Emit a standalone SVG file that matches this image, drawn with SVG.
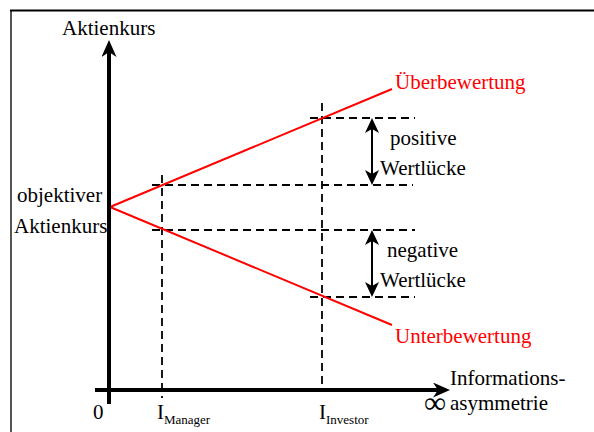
<svg xmlns="http://www.w3.org/2000/svg" width="594" height="432" viewBox="0 0 594 432" font-family="'Liberation Serif', 'DejaVu Serif', serif">
<style>
text{font-family:'Liberation Serif','DejaVu Serif',serif;font-size:21px;fill:#000}
.red{fill:#ff0000}
.sub{font-size:13px}
.inf{font-size:31px}
.dash{stroke:#000;stroke-width:1.8;stroke-dasharray:8 5;fill:none}
.axis{stroke:#000;stroke-width:4;fill:none}
.curve{stroke:#ff0000;stroke-width:2;fill:none}
.gap{stroke:#000;stroke-width:2;fill:none}
</style>
<defs>
<marker id="axhead" viewBox="0 0 17 15" refX="7" refY="7.5" markerWidth="17" markerHeight="15" markerUnits="userSpaceOnUse" orient="auto">
<path d="M0,0 L17,7.5 L0,15 L5,7.5 Z" fill="#000"/>
</marker>
<marker id="gaphead" viewBox="0 0 15 14" refX="12" refY="7" markerWidth="15" markerHeight="14" markerUnits="userSpaceOnUse" orient="auto-start-reverse">
<path d="M0,0 L15,7 L0,14 L4,7 Z" fill="#000"/>
</marker>
</defs>
<rect width="594" height="432" fill="#fff"/>
<g id="frame">
<line x1="11" y1="10" x2="11" y2="432" stroke="#555" stroke-width="2"/>
<line x1="10" y1="10.5" x2="594" y2="10.5" stroke="#000" stroke-width="2"/>
</g>
<g id="connectors">
<line class="dash" x1="162" y1="175" x2="162" y2="398"/>
<line class="dash" x1="322" y1="103" x2="322" y2="390"/>
<line class="dash" x1="310" y1="118" x2="415" y2="118"/>
<line class="dash" x1="152" y1="185" x2="413" y2="185"/>
<line class="dash" x1="152" y1="230" x2="415" y2="230"/>
<line class="dash" x1="310" y1="297" x2="415" y2="297"/>
<line class="curve" x1="110" y1="207" x2="392" y2="89"/>
<line class="curve" x1="110" y1="207" x2="392" y2="325"/>
<line class="gap" x1="372" y1="121" x2="372" y2="182" marker-start="url(#gaphead)" marker-end="url(#gaphead)"/>
<line class="gap" x1="372" y1="233" x2="372" y2="294" marker-start="url(#gaphead)" marker-end="url(#gaphead)"/>
<line class="axis" x1="109" y1="404" x2="109" y2="50" marker-end="url(#axhead)"/>
<line class="axis" x1="95" y1="390" x2="440" y2="390" marker-end="url(#axhead)"/>
</g>
<g id="label-aktienkurs"><text x="62" y="35">Aktienkurs</text></g>
<g id="label-objektiver"><text x="17" y="202">objektiver</text><text x="14" y="233">Aktienkurs</text></g>
<g id="label-ueber"><text class="red" x="395" y="89">Überbewertung</text></g>
<g id="label-unter"><text class="red" x="395" y="343">Unterbewertung</text></g>
<g id="label-positive"><text x="390" y="145">positive</text><text x="380" y="175">Wertlücke</text></g>
<g id="label-negative"><text x="387" y="257">negative</text><text x="380" y="287">Wertlücke</text></g>
<g id="label-zero"><text x="93" y="419">0</text></g>
<g id="label-manager"><text x="157" y="419">I<tspan class="sub" dy="5">Manager</tspan></text></g>
<g id="label-investor"><text x="319" y="419">I<tspan class="sub" dy="5">Investor</tspan></text></g>
<g id="label-info"><text x="450" y="385">Informations-</text><text x="450" y="410">asymmetrie</text><text class="inf" x="424" y="413">∞</text></g>
</svg>
